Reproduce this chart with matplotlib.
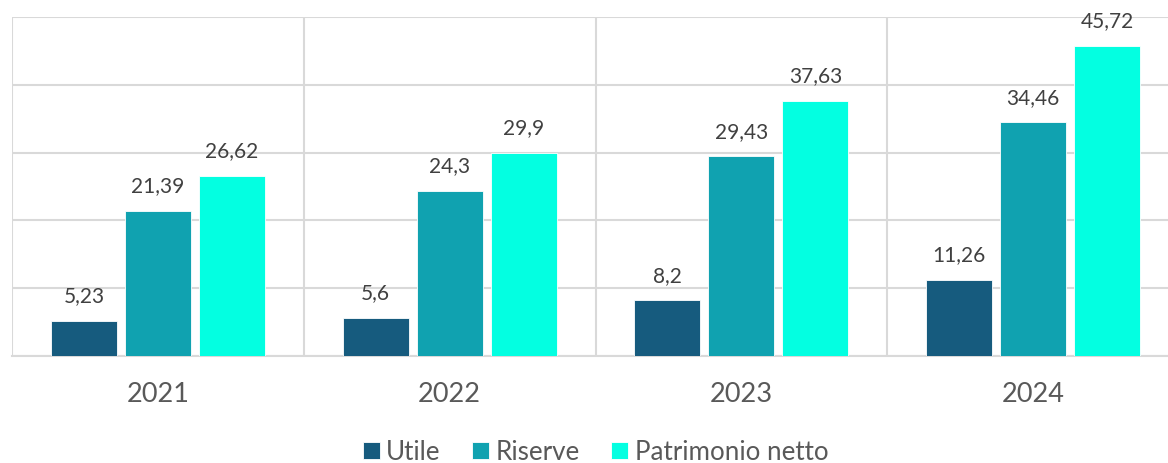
import matplotlib
matplotlib.use("Agg")
import matplotlib.pyplot as plt
import numpy as np

years = ["2021", "2022", "2023", "2024"]
series_names = ["Utile", "Riserve", "Patrimonio netto"]
utile = [5.23, 5.6, 8.2, 11.26]
riserve = [21.39, 24.3, 29.43, 34.46]
patrimonio = [26.62, 29.9, 37.63, 45.72]
colors = ["#165B7E", "#10A2B0", "#03FFE1"]

plt.rcParams['font.family'] = ['Lato', 'DejaVu Sans']

W, H = 1168, 464
fig = plt.figure(figsize=(W / 100, H / 100), dpi=100)
left, right, top, bottom = 12, 1179, 18, 357
ax = fig.add_axes([left / W, 1 - bottom / H, (right - left) / W, (bottom - top) / H])

x = np.arange(len(years))
bw = 66 / 292
step = 74 / 292
data = [utile, riserve, patrimonio]
for i, (vals, name, c) in enumerate(zip(data, series_names, colors)):
    pos = x + (i - 1) * step
    ax.bar(pos, vals, width=bw, color=c, label=name, zorder=3,
           edgecolor="#ffffff", linewidth=0.6)
    for xp, v in zip(pos, vals):
        lbl = f"{v:g}".replace(".", ",")
        ax.annotate(lbl, (xp, v), xytext=(0, 18.5), textcoords="offset points",
                    ha="center", va="center", fontsize=15, color="#404040", zorder=4)

ax.set_xlim(-0.5, len(years) - 0.5)
ax.set_ylim(0, 50)
ax.set_yticks([0, 10, 20, 30, 40, 50])
ax.set_yticklabels([])
ax.set_xticks(x)
ax.set_xticklabels(years, fontsize=19.5, color="#595959")
ax.set_xticks(np.arange(-0.5, len(years), 1.0), minor=True)
ax.tick_params(axis="both", which="both", length=0)
ax.tick_params(axis="x", pad=18)
ax.grid(axis="y", which="major", color="#d9d9d9", linewidth=1.5, zorder=0)
ax.grid(axis="x", which="minor", color="#d9d9d9", linewidth=1.5, zorder=0)
for s in ["top", "right", "left"]:
    ax.spines[s].set_visible(False)
ax.spines["bottom"].set_color("#d9d9d9")
ax.spines["bottom"].set_linewidth(1.5)

ax.legend(loc="center", bbox_to_anchor=(0.5, (357 - 453) / (bottom - top)), ncol=3,
          frameon=False, fontsize=18.7, handlelength=0.66, handleheight=0.66,
          handletextpad=0.25, columnspacing=1.2, labelcolor="#595959")

fig.savefig("out.png", dpi=100)
